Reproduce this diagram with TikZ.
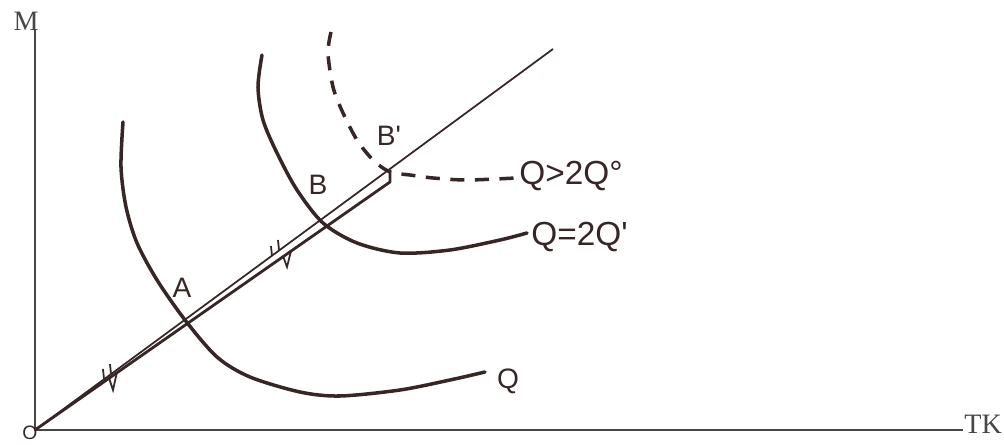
\documentclass[tikz,border=0pt]{standalone}
\usepackage{fontspec}
\setmainfont{Liberation Serif}
\newfontfamily\handfont{Liberation Sans}
\definecolor{ink}{RGB}{55,38,38}
\definecolor{axisgray}{RGB}{70,70,70}
\begin{document}
\begin{tikzpicture}[x=0.02cm, y=-0.02cm,
  every node/.style={inner sep=0pt},
  axlabel/.style={font=\fontsize{16}{18}\selectfont, text=axisgray},
  hand/.style={font=\handfont\fontsize{16}{18}\selectfont, text=ink},
  handbig/.style={font=\handfont\fontsize{19}{21}\selectfont, text=ink},
  isoq/.style={ink, line width=2pt, line cap=round, line join=round}]
  \useasboundingbox (0,0) rectangle (1004,445);
  \coordinate (O) at (35,430);
  \coordinate (ytop) at (35,30);
  \coordinate (xend) at (963,430);
  \coordinate (rayend) at (553,49);
  \coordinate (Bp) at (390,170);
  \coordinate (Bplow) at (390,182);
  \draw[axisgray, line width=1.1pt] (ytop) -- (O) -- (xend);
  \node[axlabel] (mlab) at (26,21) {M};
  \node[axlabel, anchor=west] (tklab) at (964,424) {TK};
  \node[hand, font=\handfont\fontsize{11}{13}\selectfont] (olab) at (30,433) {O};
  \draw[ink, line width=1pt] (O) -- (rayend);
  \draw[ink, line width=1.6pt, line join=round] (O) -- (Bplow) -- (Bp);
  \draw[ink, line width=1pt] (104,379) -- (103,369) (111,374) -- (110,364);
  \draw[ink, line width=1pt] (272,256) -- (271,246) (279,250) -- (278,240);
  \draw[ink, line width=1pt] (109,378) -- (113,390) -- (117,372);
  \draw[ink, line width=1pt] (283,256) -- (287,267) -- (291,251);
  \draw[isoq] plot[smooth] coordinates {(123,122) (121,167) (126,207) (137,243) (157,280) (185,320) (217,357) (250,377) (300,392) (340,396) (400,390) (450,380) (485,372)};
  \draw[isoq] plot[smooth] coordinates {(262,55) (258,87) (263,120) (277,153) (297,190) (323,223) (357,243) (400,253) (450,250) (500,240) (527,233)};
  \draw[isoq, line cap=butt, dash pattern=on 8pt off 6pt] plot[smooth] coordinates {(331,32) (328,53) (333,87) (343,113) (357,140) (373,160) (390,172) (410,175) (433,178) (467,180) (516,178)};
  \node[hand] (alab) at (182,288) {A};
  \node[hand] (blab) at (318,185) {B};
  \node[hand] (bplab) at (389,136) {B'};
  \node[hand] (q1) at (508,381) {Q};
  \node[handbig, anchor=west] (q2) at (531,237) {Q=2Q'};
  \node[handbig, anchor=west] (q3) at (519,176) {Q>2Q°};
\end{tikzpicture}
\end{document}
